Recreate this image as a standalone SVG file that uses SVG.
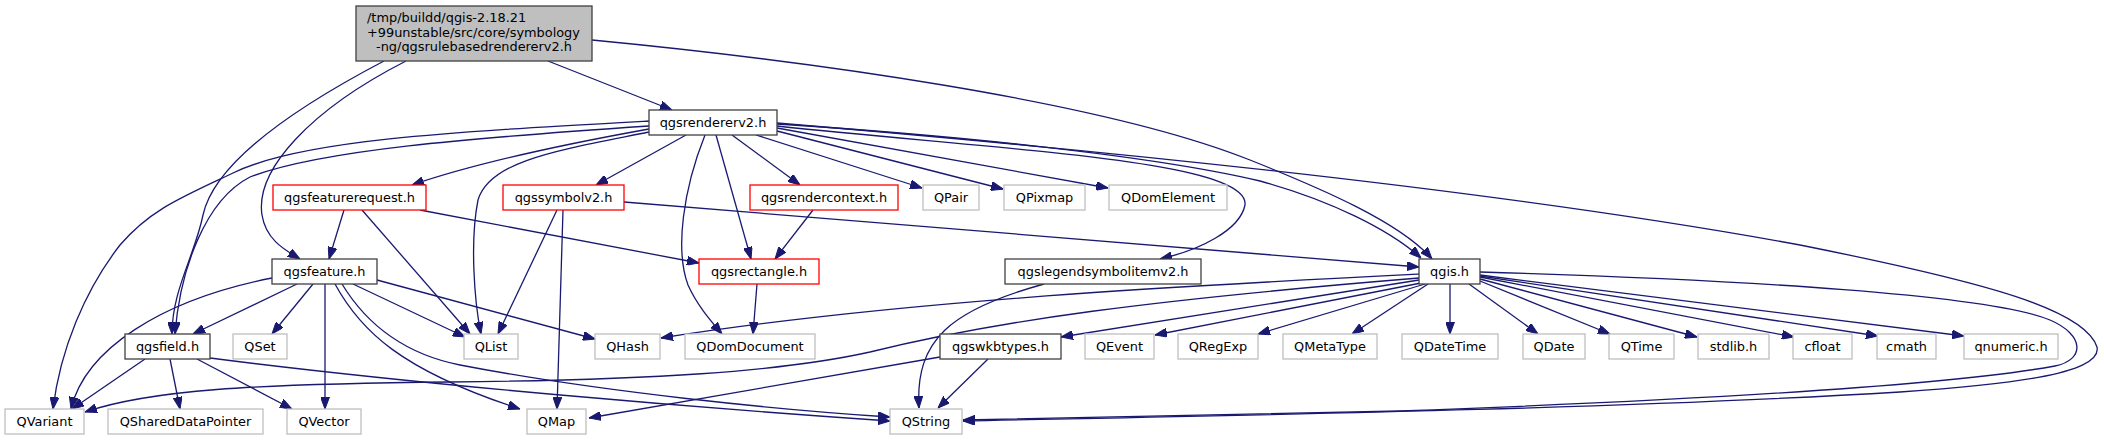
<svg xmlns="http://www.w3.org/2000/svg" width="2104" height="440" viewBox="0 0 2104 440">
<style>
text{font-family:"DejaVu Sans","Liberation Sans",sans-serif;font-size:12.9px;fill:#000;text-anchor:middle}
.n rect{fill:#fff;stroke:#404040;stroke-width:1.3}
.r rect{fill:#fff;stroke:#ff0000;stroke-width:1.3}
.g rect{fill:#fff;stroke:#bfbfbf;stroke-width:1.3}
.root rect{fill:#bfbfbf;stroke:#404040;stroke-width:1.3}
#edges path{fill:none;stroke:#191970;stroke-width:1.3;marker-end:url(#ah)}
</style>
<defs>
<marker id="ah" viewBox="0 0 12 9" refX="12" refY="4.5" markerWidth="12" markerHeight="9" markerUnits="userSpaceOnUse" orient="auto">
<path d="M0,0 L12,4.5 L0,9 Z" fill="#191970" stroke="#191970" stroke-width="1"/>
</marker>
</defs>
<rect width="2104" height="440" fill="#fff"/>
<g id="edges">
<path d="M548,61 L672,110"/>
<path d="M592,40 C800,60 1100,100 1250,160 C1320,188 1400,222 1432,259"/>
<path d="M384,61 C300,105 215,160 203,215 C195,255 172,290 172,334"/>
<path d="M406,61 C310,110 255,170 262,215 C266,240 285,250 300,259"/>
<path d="M649,121 C450,132 300,140 233,173 C180,198 150,210 120,245 C85,290 60,350 53,409"/>
<path d="M649,126 C470,138 320,150 250,177 C205,200 180,270 175,334"/>
<path d="M649,129 C560,145 470,165 412,185"/>
<path d="M649,132 C560,150 490,160 478,200 C470,240 474,300 481,334"/>
<path d="M686,135 L596,185"/>
<path d="M716,135 L751,259"/>
<path d="M705,135 C683,190 675,250 688,285 C697,305 710,320 722,334"/>
<path d="M732,135 L800,185"/>
<path d="M756,135 L922,188"/>
<path d="M777,131 L1003,189"/>
<path d="M777,128 L1108,188"/>
<path d="M777,126 C1000,150 1250,160 1245,205 C1240,230 1200,250 1160,259"/>
<path d="M777,124 C950,135 1150,155 1260,181 C1330,200 1390,230 1421,258"/>
<path d="M777,123 C1100,150 1500,190 1800,245 C1990,283 2085,310 2097,347 C2103,375 2000,385 1900,392 C1600,410 1200,416 963,421"/>
<path d="M1480,272 C1750,280 1990,295 2050,320 C2085,335 2085,360 2055,366 C1950,385 1700,400 1400,411 C1200,416 1050,419 963,420"/>
<path d="M344,210 L329,259"/>
<path d="M362,210 L470,334"/>
<path d="M420,210 L699,263"/>
<path d="M557,210 L498,334"/>
<path d="M563,210 L557,409"/>
<path d="M624,202 L1419,267"/>
<path d="M813,210 L775,259"/>
<path d="M757,284 L753,334"/>
<path d="M1044,284 C950,310 915,340 919,408"/>
<path d="M272,278 C160,300 85,350 71,409"/>
<path d="M297,284 L193,334"/>
<path d="M313,284 L272,334"/>
<path d="M325,284 L325,409"/>
<path d="M335,284 C360,330 400,370 520,409"/>
<path d="M353,284 L465,337"/>
<path d="M342,284 C370,330 410,355 460,365 C600,392 780,410 890,417"/>
<path d="M377,280 L595,339"/>
<path d="M145,359 L72,409"/>
<path d="M170,359 L180,409"/>
<path d="M197,359 L292,409"/>
<path d="M210,358 C420,385 700,408 890,421"/>
<path d="M940,357 L589,418"/>
<path d="M988,359 L938,408"/>
<path d="M1419,274 C1200,285 900,300 661,338"/>
<path d="M1419,278 C1150,300 1000,320 870,352 C780,372 650,380 450,382 C250,384 150,390 85,412"/>
<path d="M1419,280 L1061,337"/>
<path d="M1421,283 L1155,335"/>
<path d="M1425,284 L1258,334"/>
<path d="M1428,284 L1352,334"/>
<path d="M1450,284 L1450,334"/>
<path d="M1469,284 L1538,334"/>
<path d="M1480,281 L1610,334"/>
<path d="M1480,279 L1697,337"/>
<path d="M1480,277 L1794,337"/>
<path d="M1480,276 L1878,336"/>
<path d="M1480,275 L1964,336"/>
</g>
<g id="main" class="root"><rect x="356" y="6" width="236" height="55"/>
<text x="367" y="22" style="text-anchor:start">/tmp/buildd/qgis-2.18.21</text>
<text x="367" y="36.7" style="text-anchor:start">+99unstable/src/core/symbology</text>
<text x="474" y="51.3">-ng/qgsrulebasedrendererv2.h</text></g>
<g id="qgsrendererv2" class="n"><rect x="649" y="110" width="128" height="25"/><text x="713" y="126.7">qgsrendererv2.h</text></g>
<g id="qgsfeaturerequest" class="r"><rect x="273" y="185" width="153" height="25"/><text x="349.5" y="201.7">qgsfeaturerequest.h</text></g>
<g id="qgssymbolv2" class="r"><rect x="503" y="185" width="121" height="25"/><text x="563.5" y="201.7">qgssymbolv2.h</text></g>
<g id="qgsrendercontext" class="r"><rect x="750" y="185" width="148" height="25"/><text x="824" y="201.7">qgsrendercontext.h</text></g>
<g id="QPair" class="g"><rect x="923" y="185" width="56" height="25"/><text x="951" y="201.7">QPair</text></g>
<g id="QPixmap" class="g"><rect x="1004" y="185" width="81" height="25"/><text x="1044.5" y="201.7">QPixmap</text></g>
<g id="QDomElement" class="g"><rect x="1109" y="185" width="118" height="25"/><text x="1168" y="201.7">QDomElement</text></g>
<g id="qgsfeature" class="n"><rect x="272" y="259" width="105" height="25"/><text x="324.5" y="275.7">qgsfeature.h</text></g>
<g id="qgsrectangle" class="r"><rect x="699" y="259" width="120" height="25"/><text x="759" y="275.7">qgsrectangle.h</text></g>
<g id="qgslegendsymbolitemv2" class="n"><rect x="1005" y="259" width="196" height="25"/><text x="1103" y="275.7">qgslegendsymbolitemv2.h</text></g>
<g id="qgis" class="n"><rect x="1419" y="259" width="61" height="25"/><text x="1449.5" y="275.7">qgis.h</text></g>
<g id="qgsfield" class="n"><rect x="125" y="334" width="85" height="25"/><text x="167.5" y="350.7">qgsfield.h</text></g>
<g id="QSet" class="g"><rect x="233" y="334" width="54" height="25"/><text x="260" y="350.7">QSet</text></g>
<g id="QList" class="g"><rect x="464" y="334" width="54" height="25"/><text x="491" y="350.7">QList</text></g>
<g id="QHash" class="g"><rect x="595" y="334" width="65" height="25"/><text x="627.5" y="350.7">QHash</text></g>
<g id="QDomDocument" class="g"><rect x="685" y="334" width="130" height="25"/><text x="750" y="350.7">QDomDocument</text></g>
<g id="qgswkbtypes" class="n"><rect x="940" y="334" width="121" height="25"/><text x="1000.5" y="350.7">qgswkbtypes.h</text></g>
<g id="QEvent" class="g"><rect x="1085" y="334" width="69" height="25"/><text x="1119.5" y="350.7">QEvent</text></g>
<g id="QRegExp" class="g"><rect x="1178" y="334" width="80" height="25"/><text x="1218" y="350.7">QRegExp</text></g>
<g id="QMetaType" class="g"><rect x="1283" y="334" width="94" height="25"/><text x="1330" y="350.7">QMetaType</text></g>
<g id="QDateTime" class="g"><rect x="1402" y="334" width="96" height="25"/><text x="1450" y="350.7">QDateTime</text></g>
<g id="QDate" class="g"><rect x="1523" y="334" width="62" height="25"/><text x="1554" y="350.7">QDate</text></g>
<g id="QTime" class="g"><rect x="1609" y="334" width="65" height="25"/><text x="1641.5" y="350.7">QTime</text></g>
<g id="stdlib" class="g"><rect x="1698" y="334" width="71" height="25"/><text x="1733.5" y="350.7">stdlib.h</text></g>
<g id="cfloat" class="g"><rect x="1793" y="334" width="59" height="25"/><text x="1822.5" y="350.7">cfloat</text></g>
<g id="cmath" class="g"><rect x="1877" y="334" width="59" height="25"/><text x="1906.5" y="350.7">cmath</text></g>
<g id="qnumeric" class="g"><rect x="1964" y="334" width="94" height="25"/><text x="2011" y="350.7">qnumeric.h</text></g>
<g id="QVariant" class="g"><rect x="5" y="409" width="79" height="25"/><text x="44.5" y="425.7">QVariant</text></g>
<g id="QSharedDataPointer" class="g"><rect x="108" y="409" width="155" height="25"/><text x="185.5" y="425.7">QSharedDataPointer</text></g>
<g id="QVector" class="g"><rect x="287" y="409" width="74" height="25"/><text x="324" y="425.7">QVector</text></g>
<g id="QMap" class="g"><rect x="527" y="409" width="59" height="25"/><text x="556.5" y="425.7">QMap</text></g>
<g id="QString" class="g"><rect x="890" y="409" width="72" height="25"/><text x="926" y="425.7">QString</text></g>
</svg>
